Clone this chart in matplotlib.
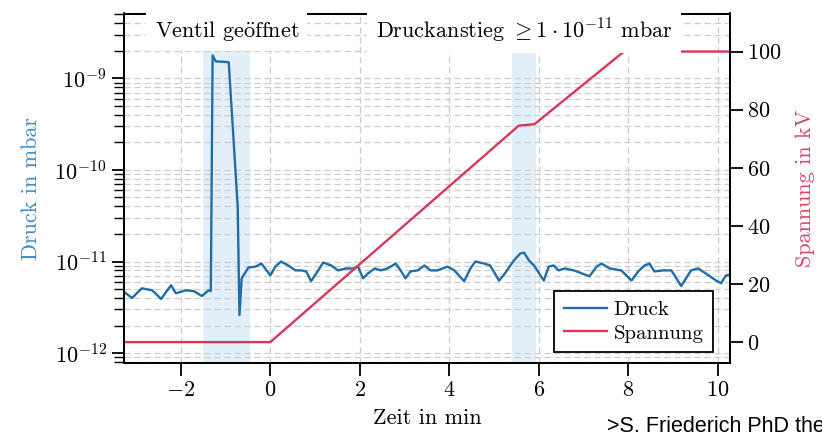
import matplotlib
matplotlib.use("Agg")
import matplotlib.pyplot as plt
from matplotlib.lines import Line2D
import matplotlib.transforms as mtransforms

# Druck (in 1e-12 mbar) ueber der Zeit
t_druck = [-3.29, -3.09, -2.87, -2.64, -2.44, -2.22, -2.11, -1.89, -1.71, -1.53,
           -1.38, -1.33, -1.29, -1.22, -0.93, -0.73, -0.69, -0.64, -0.49, -0.33,
           -0.20, 0.00, 0.11, 0.24, 0.40, 0.56, 0.69, 0.80, 0.91, 1.07,
           1.18, 1.36, 1.51, 1.69, 1.84, 1.96, 2.07, 2.18, 2.33, 2.47,
           2.62, 2.80, 2.91, 3.02, 3.13, 3.29, 3.44, 3.58, 3.73, 3.96,
           4.11, 4.33, 4.47, 4.58, 4.78, 4.91, 5.11, 5.24, 5.44, 5.58,
           5.67, 5.78, 5.89, 6.11, 6.22, 6.33, 6.44, 6.58, 6.78, 6.84,
           7.13, 7.29, 7.40, 7.58, 7.84, 8.07, 8.22, 8.36, 8.47, 8.58,
           8.78, 8.96, 9.18, 9.40, 9.56, 9.73, 9.96, 10.07, 10.18, 10.30]
druck_e12 = [4.75, 4.0, 5.1, 4.85, 3.9, 5.5, 4.5, 4.85, 4.75, 4.2,
             4.85, 4.75, 1780, 1530, 1500, 40.0, 2.6, 6.55, 8.6, 8.8,
             9.5, 7.05, 8.8, 10.0, 9.05, 8.0, 8.0, 7.8, 6.1, 8.0,
             9.75, 9.05, 8.0, 8.4, 8.4, 8.8, 6.55, 7.4, 8.4, 8.0,
             8.4, 9.5, 8.0, 6.55, 7.8, 8.0, 9.05, 8.0, 8.0, 8.8,
             8.0, 6.1, 8.4, 10.0, 9.5, 9.05, 6.2, 7.4, 10.25, 12.2,
             12.5, 10.25, 9.05, 6.2, 8.8, 9.05, 8.0, 8.4, 8.0, 7.8,
             6.9, 8.8, 9.5, 8.4, 8.0, 6.2, 7.8, 9.05, 9.5, 7.8,
             8.0, 8.0, 5.4, 8.0, 8.4, 7.4, 6.2, 5.8, 7.05, 7.2]
druck = [d * 1e-12 for d in druck_e12]

# Spannung in kV
t_spannung = [-3.3, 0.0, 5.55, 5.9, 7.9, 10.3]
spannung = [0, 0, 74.5, 75, 100, 100]

# Markierte Zeitbereiche
ventil = (-1.5, -0.45)
anstieg = (5.4, 5.93)

blau = "#1f6ea8"
rot = "#d7385a"
grau = "#cccccc"

plt.rcParams["font.family"] = ["cmr10", "DejaVu Serif"]
plt.rcParams["mathtext.fontset"] = "cm"
plt.rcParams["axes.formatter.use_mathtext"] = True
plt.rcParams["font.size"] = 16

fig = plt.figure(figsize=(8.22, 4.32), dpi=100)
ax = fig.add_axes([124 / 822, 1 - 363 / 432, 606 / 822, 349.5 / 432])
ax2 = ax.twinx()

ax.axvspan(*ventil, color="#e4f0f9", lw=0, zorder=0)
ax.axvspan(*anstieg, color="#e4f0f9", lw=0, zorder=0)
ax.plot(t_druck, druck, color=blau, lw=1.7, zorder=3)
ax.set_yscale("log")
ax.set_ylim(7.8e-13, 5.1e-9)
ax.set_xlim(-3.27, 10.27)
ax.set_xticks([-2, 0, 2, 4, 6, 8, 10])
ax.grid(True, which="both", axis="y", ls=(0, (5, 3)), color=grau, lw=0.9)
ax.grid(True, which="major", axis="x", ls=(0, (5, 3)), color=grau, lw=0.9)
ax.set_axisbelow(True)
ax.set_ylabel("Druck in mbar", color="#3a8ccc", labelpad=10)
ax.set_xlabel("Zeit in min", labelpad=6)

ax2.plot(t_spannung, spannung, color=rot, lw=1.7)
ax2.set_ylim(-7.2, 113.1)
ax2.set_yticks([0, 20, 40, 60, 80, 100])
ax2.set_ylabel("Spannung in kV", color="#dd4466", labelpad=10)

for a in (ax, ax2):
    for s in a.spines.values():
        s.set_linewidth(1.3)
ax.tick_params(which="major", length=9, width=1.3, direction="out")
ax.tick_params(which="minor", length=7, width=1.0, direction="out")
ax.tick_params(axis="x", which="minor", bottom=False)
ax2.tick_params(length=9, width=1.3, direction="out")

trans = mtransforms.blended_transform_factory(ax.transData, ax.transAxes)
for rng, txt in [(ventil, r"Ventil ge$\ddot{\mathrm{o}}$ffnet"),
                 (anstieg, r"Druckanstieg $\geq 1\cdot10^{-11}$ mbar")]:
    ax2.text((rng[0] + rng[1]) / 2, 0.95, txt, transform=trans,
             ha="center", va="center", zorder=10, clip_on=False,
             bbox=dict(facecolor="white", edgecolor="none", pad=6))

handles = [Line2D([], [], color=blau, lw=1.7), Line2D([], [], color=rot, lw=1.7)]
leg = ax2.legend(handles, ["Druck", "Spannung"], loc="lower right",
                 bbox_to_anchor=(0.972, 0.031), borderaxespad=0,
                 fancybox=False, framealpha=1, edgecolor="black",
                 fontsize=15, handlelength=2.1, handletextpad=0.3,
                 borderpad=0.45, labelspacing=0.25)
leg.get_frame().set_linewidth(1.3)

fig.text(607 / 822, -5 / 432, ">S. Friederich PhD thesis", fontsize=15.5,
         family="Liberation Sans", va="bottom", ha="left")

fig.savefig("out.png", dpi=100)
